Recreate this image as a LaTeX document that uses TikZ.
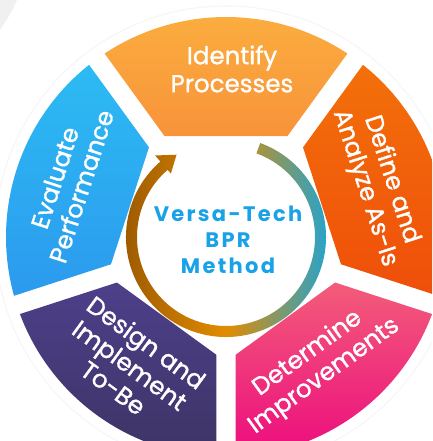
\documentclass[tikz,border=0pt]{standalone}
\usepackage{fontspec}
\setmainfont{Poppins}
\newfontfamily\segfont[FakeBold=1.2]{Poppins}
\newfontfamily\hubfont[LetterSpace=11]{Poppins}

\definecolor{identifytop}{HTML}{FBAF3F}
\definecolor{identifybot}{HTML}{F8933A}
\definecolor{definetop}{HTML}{F3700A}
\definecolor{definebot}{HTML}{EF4E0A}
\definecolor{determinetop}{HTML}{F35C7A}
\definecolor{determinebot}{HTML}{EC0C7E}
\definecolor{designtop}{HTML}{4E3F8A}
\definecolor{designbot}{HTML}{3D3465}
\definecolor{evaluatetop}{HTML}{2CBBF3}
\definecolor{evaluatebot}{HTML}{2C9AEE}
\definecolor{ringbrown}{HTML}{965500}
\definecolor{ringorange}{HTML}{E28C00}
\definecolor{ringblue}{HTML}{12A6E2}
\definecolor{hubblue}{HTML}{19A2E7}

\begin{document}
\begin{tikzpicture}[x=1pt, y=1pt,
    seglabel/.style={text=white, align=center, font=\segfont\fontsize{24.5}{28}\selectfont},
    hublabel/.style={text=hubblue, align=center, font=\hubfont\bfseries\fontsize{21}{26}\selectfont}]
    \clip (-226,-204) rectangle (206,237);
    \fill[gray!12] (-226,237) -- (-209,237) .. controls (-215,224) .. (-226,207) -- cycle;
    \draw[gray!7, line width=1.2pt] (0,0) circle[radius=231];

    \shade[top color=identifytop, bottom color=identifybot]
        (58.66:118.2) -- (56.5:220) arc[start angle=56.5, end angle=123.5, radius=220] -- (121.34:118.2) -- cycle;
    \shade[top color=definetop, bottom color=definebot]
        (-13.34:118.2) -- (-15.5:220) arc[start angle=-15.5, end angle=51.5, radius=220] -- (49.34:118.2) -- cycle;
    \shade[top color=determinetop, bottom color=determinebot]
        (-85.34:118.2) -- (-87.5:220) arc[start angle=-87.5, end angle=-20.5, radius=220] -- (-22.66:118.2) -- cycle;
    \shade[top color=designtop, bottom color=designbot]
        (-157.34:118.2) -- (-159.5:220) arc[start angle=-159.5, end angle=-92.5, radius=220] -- (-94.66:118.2) -- cycle;
    \shade[top color=evaluatetop, bottom color=evaluatebot]
        (130.66:118.2) -- (128.5:220) arc[start angle=128.5, end angle=195.5, radius=220] -- (193.34:118.2) -- cycle;

    \shade[left color=ringbrown, right color=ringblue, middle color=ringorange]
        (70:100) arc[start angle=70, end angle=-229, radius=100] -- (131:108) -- (121:96)
        -- (131:84) -- (131:89) arc[start angle=-229, end angle=70, radius=89] -- cycle;

    \node[seglabel]                 (identify)  at (6,168)     {Identify\\Processes};
    \node[seglabel, rotate=-72]     (define)    at (152,53)    {Define and\\Analyze As-Is};
    \node[seglabel, rotate=36]      (determine) at (90,-128)   {Determine\\Improvements};
    \node[seglabel, rotate=-36]     (design)    at (-96,-128)  {Design and\\Implement\\To-Be};
    \node[seglabel, rotate=72]      (evaluate)  at (-158,55)   {Evaluate\\Performance};
    \node[hublabel]                 (method)    at (2,-3)      {Versa-Tech\\BPR\\Method};
\end{tikzpicture}
\end{document}
